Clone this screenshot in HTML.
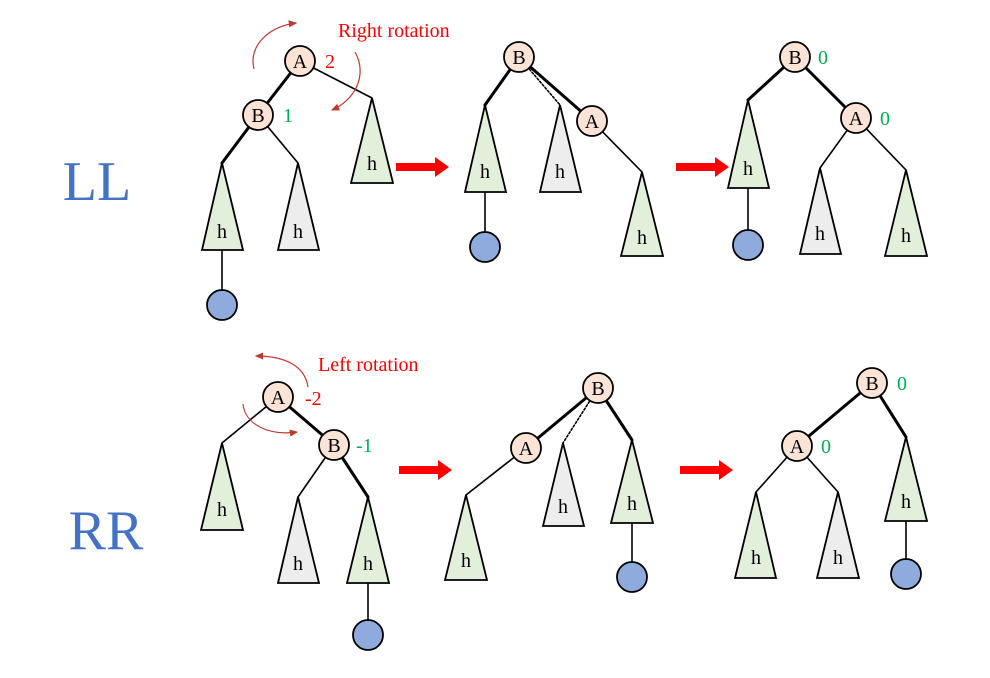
<!DOCTYPE html>
<html><head><meta charset="utf-8"><style>
html,body{margin:0;padding:0;background:#fff}
svg{display:block}
text{font-family:"Liberation Serif",serif}
</style></head><body>
<svg width="990" height="678" viewBox="0 0 990 678">
<defs>
<marker id="ah" markerWidth="8" markerHeight="8" refX="6" refY="4" orient="auto"><path d="M0,1 L7,4 L0,7 Z" fill="#c0392b"/></marker>
</defs>
<g stroke="#000" fill="none" stroke-linecap="round">
<!-- LL left tree edges -->
<line x1="300" y1="61" x2="258" y2="115" stroke-width="3"/>
<line x1="300" y1="61" x2="372" y2="98" stroke-width="1.6"/>
<line x1="258" y1="115" x2="222" y2="163" stroke-width="3"/>
<line x1="258" y1="115" x2="298" y2="163" stroke-width="1.6"/>
<line x1="222" y1="250" x2="222" y2="290" stroke-width="1.6"/>
<!-- LL middle -->
<line x1="519" y1="57" x2="485" y2="105" stroke-width="3"/>
<line x1="519" y1="57" x2="560" y2="105" stroke-width="1.6" stroke-dasharray="2,2"/>
<line x1="519" y1="57" x2="592" y2="121" stroke-width="3"/>
<line x1="592" y1="121" x2="642" y2="172" stroke-width="1.6"/>
<line x1="485" y1="192" x2="485" y2="232" stroke-width="1.6"/>
<!-- LL right -->
<line x1="795" y1="57" x2="748" y2="100" stroke-width="3"/>
<line x1="795" y1="57" x2="856" y2="118" stroke-width="3"/>
<line x1="856" y1="118" x2="820" y2="168" stroke-width="1.6"/>
<line x1="856" y1="118" x2="906" y2="170" stroke-width="1.6"/>
<line x1="748" y1="188" x2="748" y2="230" stroke-width="1.6"/>
<!-- RR left -->
<line x1="278" y1="397" x2="222" y2="443" stroke-width="1.6"/>
<line x1="278" y1="397" x2="334" y2="445" stroke-width="3"/>
<line x1="334" y1="445" x2="298" y2="497" stroke-width="1.6"/>
<line x1="334" y1="445" x2="368" y2="497" stroke-width="3"/>
<line x1="368" y1="583" x2="368" y2="620" stroke-width="1.6"/>
<!-- RR middle -->
<line x1="598" y1="388" x2="526" y2="448" stroke-width="3"/>
<line x1="598" y1="388" x2="563" y2="443" stroke-width="1.6" stroke-dasharray="2,2"/>
<line x1="598" y1="388" x2="632" y2="440" stroke-width="3"/>
<line x1="526" y1="448" x2="466" y2="495" stroke-width="1.6"/>
<line x1="632" y1="523" x2="632" y2="562" stroke-width="1.6"/>
<!-- RR right -->
<line x1="872" y1="383" x2="797" y2="446" stroke-width="3"/>
<line x1="872" y1="383" x2="906" y2="437" stroke-width="3"/>
<line x1="797" y1="446" x2="756" y2="492" stroke-width="1.6"/>
<line x1="797" y1="446" x2="838" y2="492" stroke-width="1.6"/>
<line x1="906" y1="521" x2="906" y2="560" stroke-width="1.6"/>
</g>

<g stroke="#000" stroke-width="1.8" stroke-linejoin="miter">
<!-- triangles: apex x, apex y, base y -->
<polygon points="372,98 351,183 393,183" fill="#e2efda"/>
<polygon points="222,163 202,250 243,250" fill="#e2efda"/>
<polygon points="298,163 278,250 319,250" fill="#ededed"/>
<polygon points="485,105 465,192 506,192" fill="#e2efda"/>
<polygon points="560,105 540,192 581,192" fill="#ededed"/>
<polygon points="642,172 621,256 663,256" fill="#e2efda"/>
<polygon points="748,100 728,188 769,188" fill="#e2efda"/>
<polygon points="820,168 800,254 841,254" fill="#ededed"/>
<polygon points="906,170 885,256 927,256" fill="#e2efda"/>
<polygon points="222,443 201,530 243,530" fill="#e2efda"/>
<polygon points="298,497 278,583 319,583" fill="#ededed"/>
<polygon points="368,497 347,583 389,583" fill="#e2efda"/>
<polygon points="466,495 445,580 487,580" fill="#e2efda"/>
<polygon points="563,443 543,526 584,526" fill="#ededed"/>
<polygon points="632,440 611,523 653,523" fill="#e2efda"/>
<polygon points="756,492 735,578 776,578" fill="#e2efda"/>
<polygon points="838,492 817,578 859,578" fill="#ededed"/>
<polygon points="906,437 885,521 927,521" fill="#e2efda"/>
</g>

<g font-size="20" text-anchor="middle" fill="#000">
<text x="372" y="170">h</text><text x="222" y="238">h</text><text x="298" y="238">h</text>
<text x="485" y="178">h</text><text x="560" y="178">h</text><text x="642" y="244">h</text>
<text x="748" y="175">h</text><text x="820" y="240">h</text><text x="906" y="242">h</text>
<text x="222" y="516">h</text><text x="298" y="570">h</text><text x="368" y="570">h</text>
<text x="466" y="567">h</text><text x="563" y="513">h</text><text x="632" y="510">h</text>
<text x="756" y="564">h</text><text x="838" y="564">h</text><text x="906" y="508">h</text>
</g>

<g fill="#8faadc" stroke="#000" stroke-width="1.8">
<circle cx="222" cy="305" r="15"/>
<circle cx="485" cy="247" r="15"/>
<circle cx="748" cy="245" r="15"/>
<circle cx="368" cy="635" r="15"/>
<circle cx="632" cy="577" r="15"/>
<circle cx="906" cy="574" r="15"/>
</g>

<g fill="#fbe3d5" stroke="#000" stroke-width="1.8">
<circle cx="300" cy="61" r="15"/><circle cx="258" cy="115" r="15"/>
<circle cx="519" cy="57" r="15"/><circle cx="592" cy="121" r="15"/>
<circle cx="795" cy="57" r="15"/><circle cx="856" cy="118" r="15"/>
<circle cx="278" cy="397" r="15"/><circle cx="334" cy="445" r="15"/>
<circle cx="598" cy="388" r="15"/><circle cx="526" cy="448" r="15"/>
<circle cx="872" cy="383" r="15"/><circle cx="797" cy="446" r="15"/>
</g>
<g font-size="20" text-anchor="middle" fill="#000">
<text x="300" y="68">A</text><text x="258" y="122">B</text>
<text x="519" y="64">B</text><text x="592" y="128">A</text>
<text x="795" y="64">B</text><text x="856" y="125">A</text>
<text x="278" y="404">A</text><text x="334" y="452">B</text>
<text x="598" y="395">B</text><text x="526" y="455">A</text>
<text x="872" y="390">B</text><text x="797" y="453">A</text>
</g>

<g font-size="20">
<text x="325" y="68" fill="#ff0000">2</text>
<text x="283" y="122" fill="#00b050">1</text>
<text x="818" y="64" fill="#00b050">0</text>
<text x="880" y="125" fill="#00b050">0</text>
<text x="305" y="405" fill="#ff0000">-2</text>
<text x="356" y="452" fill="#00b050">-1</text>
<text x="897" y="390" fill="#00b050">0</text>
<text x="821" y="453" fill="#00b050">0</text>
<text x="338" y="37" fill="#ff0000">Right rotation</text>
<text x="318" y="371" fill="#ff0000">Left rotation</text>
</g>

<g fill="none" stroke="#c0392b" stroke-width="1.2" marker-end="url(#ah)">
<path d="M254,69 C248,45 270,26 296,23"/>
<path d="M355,52 C368,75 355,100 332,110"/>
<path d="M308,387 C305,366 285,356 256,356"/>
<path d="M243,404 C245,425 270,436 297,432"/>
</g>

<g fill="#ff0000">
<polygon points="396,163 435,163 435,157 449,167 435,177 435,171 396,171"/>
<polygon points="676,163 715,163 715,157 729,167 715,177 715,171 676,171"/>
<polygon points="399,466 438,466 438,460 452,470 438,480 438,474 399,474"/>
<polygon points="680,466 719,466 719,460 733,470 719,480 719,474 680,474"/>
</g>

<text x="97" y="200" font-size="56" fill="#4472c4" text-anchor="middle">LL</text>
<text x="106" y="549" font-size="56" fill="#4472c4" text-anchor="middle">RR</text>
</svg>
</body></html>
